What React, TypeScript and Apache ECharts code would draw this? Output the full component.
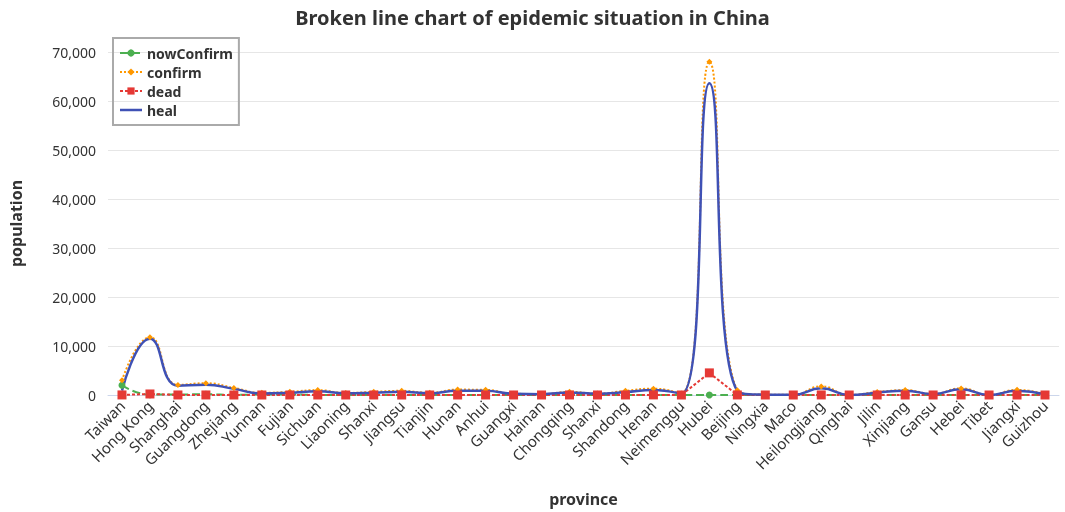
import React, { useEffect, useRef } from "react";
import * as echarts from "echarts";

// Provinces on the category axis
const provinces = [
  "Taiwan", "Hong Kong", "Shanghai", "Guangdong", "Zhejiang", "Yunnan", "Fujian",
  "Sichuan", "Liaoning", "Shanxi", "Jiangsu", "Tianjin", "Hunan", "Anhui", "Guangxi",
  "Hainan", "Chongqing", "Shanxi", "Shandong", "Henan", "Neimenggu", "Hubei", "Beijing",
  "Ningxia", "Maco", "Heilongjiang", "Qinghai", "Jilin", "Xinjiang", "Gansu", "Hebei",
  "Tibet", "Jiangxi", "Guizhou",
];

// Current confirmed cases
const nowConfirm = [
  2000, 80, 100, 150, 30, 100, 100, 20, 10, 10, 20, 20, 5, 0, 5, 0, 0, 20, 5, 5, 10,
  0, 10, 0, 0, 10, 0, 5, 0, 0, 0, 0, 0, 5,
];

// Cumulative confirmed cases
const confirm = [
  3000, 11800, 2050, 2400, 1450, 450, 650, 1000, 420, 650, 850, 450, 1100, 1050, 270,
  190, 650, 300, 850, 1300, 300, 68000, 950, 75, 60, 1750, 18, 600, 1000, 200, 1350,
  1, 1050, 150,
];

// Deaths
const dead = [
  12, 210, 7, 8, 1, 2, 1, 3, 2, 3, 0, 3, 4, 6, 2, 6, 6, 3, 7, 22, 1, 4512, 9, 0, 0,
  13, 0, 3, 3, 2, 7, 0, 1, 2,
];

// Recovered
const heal = [
  900, 11500, 1900, 2100, 1250, 330, 480, 750, 360, 480, 650, 380, 880, 880, 250, 170,
  500, 270, 620, 1020, 280, 63600, 800, 75, 55, 1360, 18, 480, 880, 190, 1160, 1, 880,
  140,
];

const FONT = "'Noto Sans', 'Open Sans', sans-serif";

export default function App() {
  const ref = useRef<HTMLDivElement>(null);

  useEffect(() => {
    if (!ref.current) return;
    const chart = echarts.init(ref.current, undefined, { renderer: "svg" });
    chart.setOption({
      animation: false,
      textStyle: { fontFamily: FONT },
      title: {
        text: "Broken line chart of epidemic situation in China",
        left: "center",
        top: 2,
        textStyle: { fontSize: 20, fontWeight: "bold", color: "#333", fontFamily: FONT },
      },
      legend: {
        orient: "vertical",
        left: 113,
        top: 38,
        padding: [8, 6, 8, 6],
        itemGap: 5,
        itemWidth: 22,
        itemHeight: 9,
        borderColor: "#aaa",
        borderWidth: 2,
        textStyle: { fontSize: 14, fontWeight: "bold", color: "#333", fontFamily: FONT },
        data: [
          "nowConfirm",
          "confirm",
          "dead",
          // plain line icon for the series drawn without markers
          { name: "heal", icon: "path://M0,0H22V2.5H0Z" },
        ],
      },
      grid: { left: 100, right: 6, top: 52, bottom: 117 },
      xAxis: {
        type: "category",
        data: provinces,
        boundaryGap: true,
        name: "province",
        nameLocation: "middle",
        nameGap: 96,
        nameTextStyle: { fontSize: 16, fontWeight: "bold", color: "#333" },
        axisLine: { lineStyle: { color: "#ccd6eb" } },
        axisTick: { lineStyle: { color: "#ccd6eb" } },
        axisLabel: { rotate: 45, interval: 0, fontSize: 15, color: "#333" },
      },
      yAxis: {
        type: "value",
        min: 0,
        max: 70000,
        interval: 10000,
        name: "population",
        nameLocation: "middle",
        nameGap: 84,
        nameTextStyle: { fontSize: 16, fontWeight: "bold", color: "#333" },
        axisLabel: {
          fontSize: 14,
          color: "#333",
          margin: 12,
          formatter: (v: number) => v.toLocaleString("en-US"),
        },
        splitLine: { lineStyle: { color: "#e6e6e6" } },
      },
      series: [
        {
          name: "nowConfirm",
          type: "line",
          data: nowConfirm,
          smooth: true,
          symbol: "circle",
          symbolSize: 7,
          itemStyle: { color: "#4caf50" },
          lineStyle: { color: "#4caf50", width: 2, type: "dashed" },
        },
        {
          name: "confirm",
          type: "line",
          data: confirm,
          smooth: true,
          symbol: "diamond",
          symbolSize: 6,
          itemStyle: { color: "#ff9800" },
          lineStyle: { color: "#ff9800", width: 2, type: "dotted" },
        },
        {
          name: "dead",
          type: "line",
          data: dead,
          smooth: false,
          symbol: "rect",
          symbolSize: 9,
          itemStyle: { color: "#e53935" },
          lineStyle: { color: "#e53935", width: 2, type: [3, 2] },
        },
        {
          name: "heal",
          type: "line",
          data: heal,
          smooth: true,
          symbol: "none",
          itemStyle: { color: "#3f51b5" },
          lineStyle: { color: "#3f51b5", width: 2.5 },
        },
      ],
    });
    return () => chart.dispose();
  }, []);

  return (
    <div
      ref={ref}
      style={{ position: "fixed", left: 0, top: 0, width: 1065, height: 512 }}
    />
  );
}
